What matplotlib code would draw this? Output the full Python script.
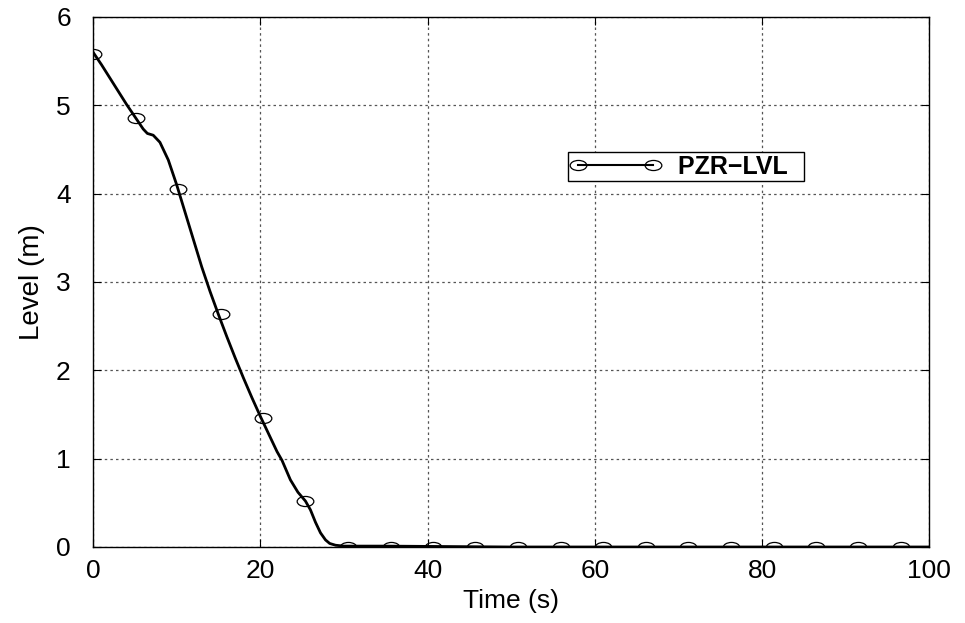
import numpy as np
import matplotlib
matplotlib.use('Agg')
import matplotlib.pyplot as plt
from matplotlib.path import Path
from matplotlib.transforms import Affine2D

plt.rcParams['font.family'] = ['Liberation Sans', 'DejaVu Sans']

# curve points (time s, level m)
t_line = [0, 1, 2, 3, 4, 5, 6, 6.5, 7.2, 8, 9, 10, 11, 12, 13, 14, 15, 16, 17,
          18, 19, 20, 21, 22, 22.6, 23.6, 24.5, 25.4, 26, 26.6, 27.2, 27.8, 28.3,
          29, 30, 35, 50, 70, 100]
lvl_line = [5.6, 5.46, 5.31, 5.16, 5.01, 4.87, 4.73, 4.68, 4.66, 4.58, 4.38, 4.1,
            3.79, 3.48, 3.17, 2.89, 2.63, 2.38, 2.14, 1.91, 1.69, 1.48, 1.28, 1.08,
            0.98, 0.76, 0.62, 0.52, 0.42, 0.28, 0.16, 0.08, 0.04, 0.02, 0.01,
            0.01, 0.0, 0.0, 0.0]

# marker points
t_mark = [0, 5.1, 10.2, 15.3, 20.3, 25.4, 30.5, 35.6, 40.6, 45.7, 50.8, 55.9,
          61.0, 66.1, 71.2, 76.3, 81.4, 86.4, 91.5, 96.6]
lvl_mark = [5.58, 4.86, 4.05, 2.64, 1.46, 0.52, 0.0, 0.0, 0.0, 0.0, 0.0, 0.0,
            0.0, 0.0, 0.0, 0.0, 0.0, 0.0, 0.0, 0.0]

# wide ellipse marker
ell = Path.unit_circle().transformed(Affine2D().scale(1.65, 1.0))

fig = plt.figure(figsize=(9.65, 6.23), dpi=100)
ax = fig.add_axes([0.0964, 0.122, 0.8666, 0.851])

ax.plot(t_line, lvl_line, 'k-', lw=2.0)
ax.plot(t_mark, lvl_mark, ls='none', marker=ell, ms=12, mfc='none',
        mec='k', mew=0.9)
# legend handle
ax.plot([], [], 'k-', lw=1.5, marker=ell, ms=12, mfc='none', mec='k',
        mew=0.9, label='PZR\u2212LVL  ')

ax.set_xlim(0, 100)
ax.set_ylim(0, 6)
ax.set_xticks(np.arange(0, 101, 20))
ax.set_yticks(np.arange(0, 7, 1))
ax.tick_params(direction='in', labelsize=19, length=6, top=True, right=True)
ax.tick_params(axis='x', pad=9)
ax.tick_params(axis='y', pad=16)
ax.grid(True, color='#555555', ls=(0, (2, 2.5)), lw=0.9)
for s in ax.spines.values():
    s.set_linewidth(1.0)
ax.set_xlabel('Time (s)', fontsize=19, labelpad=4)
ax.set_ylabel('Level (m)', fontsize=20, labelpad=8)

leg = ax.legend(loc='upper left', bbox_to_anchor=(0.568, 0.745), borderaxespad=0,
                fancybox=False, framealpha=1, edgecolor='k', numpoints=2,
                prop={'weight': 'bold', 'size': 18},
                handlelength=3.6, borderpad=0.1, handletextpad=0.7)
leg.get_frame().set_linewidth(1.0)

fig.savefig('out.png', dpi=100)
